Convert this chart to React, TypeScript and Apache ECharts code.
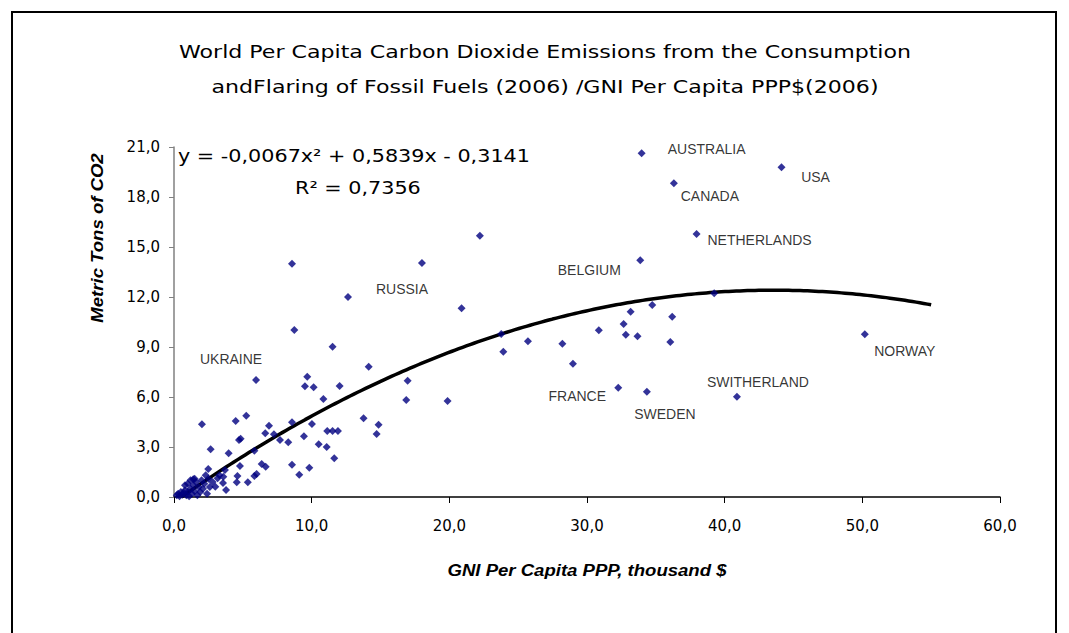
import React, { useEffect, useRef } from "react";
import * as echarts from "echarts";

const TITLE_LINES = [
  "World Per Capita Carbon Dioxide Emissions from the Consumption",
  "andFlaring of Fossil Fuels (2006) /GNI Per Capita PPP$(2006)",
];
const X_AXIS_TITLE = "GNI Per Capita PPP, thousand $";
const Y_AXIS_TITLE = "Metric Tons of CO2";
const EQUATION_TEXT = "y = -0,0067x² + 0,5839x - 0,3141";
const R2_TEXT = "R² = 0,7356";

const X_MIN = 0;
const X_MAX = 60;
const X_STEP = 10;
const Y_MIN = 0;
const Y_MAX = 21;
const Y_STEP = 3;

// trend line coefficients (as printed on the chart)
const TREND_A = -0.0067;
const TREND_B = 0.5839;
const TREND_C = -0.3141;
const TREND_END = 55;

// labelled countries
const labelledNames = [
  "AUSTRALIA", "CANADA", "USA", "NETHERLANDS", "BELGIUM", "RUSSIA",
  "UKRAINE", "FRANCE", "SWEDEN", "SWITHERLAND", "NORWAY",
];
const labelledGni = [33.97, 36.31, 44.13, 37.96, 33.87, 12.64, 5.96, 32.27, 34.35, 40.89, 50.18];
const labelledCo2 = [20.62, 18.82, 19.78, 15.78, 14.2, 12.0, 7.02, 6.56, 6.32, 6.02, 9.76];

// other countries
const otherGni = [
  22.22, 20.89, 39.24, 34.74, 33.17, 36.19, 32.66, 30.86, 32.82, 33.67, 36.05, 23.77, 23.92, 25.71, 28.21, 28.98,
  8.57, 18.01, 8.74, 11.52, 14.14, 9.68, 9.51, 10.14, 12.03, 10.85, 16.97, 16.87, 19.87, 8.57, 10.02, 13.77,
  14.86, 14.72, 11.13, 11.52, 11.91, 7.7, 8.3, 9.44, 10.51, 11.09, 11.64, 8.57, 9.83, 9.1,
  2.03, 4.48, 5.25, 6.9, 6.63, 7.26, 4.72, 4.84, 2.66, 3.97, 5.84, 2.49, 4.79, 6.37, 6.66, 3.7, 3.58, 4.61,
  5.84, 6.0, 3.17, 1.4,
  0.2, 0.3, 0.4, 0.5, 0.6, 0.7, 0.8, 0.9, 1.0, 1.1, 1.2, 1.3, 1.4, 1.5, 1.6, 1.7, 1.8, 1.9, 2.0, 2.1,
  2.2, 2.4, 2.5, 2.6, 2.8, 3.0, 1.2, 1.5, 1.0, 0.8, 2.3, 3.3, 3.56, 3.78, 4.56, 5.36,
];
const otherCo2 = [
  15.68, 11.32, 12.22, 11.52, 11.12, 10.82, 10.38, 10.0, 9.74, 9.64, 9.3, 9.78, 8.72, 9.34, 9.2, 8.0,
  14.0, 14.04, 10.02, 9.02, 7.82, 7.22, 6.64, 6.58, 6.66, 5.88, 6.98, 5.82, 5.76, 4.48, 4.38, 4.72,
  4.34, 3.78, 3.96, 3.96, 3.96, 3.42, 3.28, 3.64, 3.16, 3.0, 2.32, 1.94, 1.76, 1.34,
  4.36, 4.56, 4.88, 4.28, 3.82, 3.76, 3.42, 3.5, 2.86, 2.62, 2.78, 1.68, 1.86, 1.98, 1.82, 1.62, 1.22, 1.26,
  1.26, 1.38, 1.12, 1.06,
  0.1, 0.2, 0.05, 0.3, 0.15, 0.25, 0.4, 0.1, 0.3, 0.05, 0.5, 0.2, 0.7, 0.35, 0.9, 0.1, 0.6, 0.3, 1.0, 0.5,
  0.8, 0.2, 1.1, 0.6, 0.9, 0.62, 1.0, 1.1, 0.8, 0.7, 1.3, 1.3, 0.84, 0.42, 0.88, 0.88,
];

// label placement (pixel offsets from the marker)
const LABEL_OFFSETS: Record<string, [number, number]> = {
  AUSTRALIA: [65, -4],
  CANADA: [36, 13],
  USA: [34, 10],
  NETHERLANDS: [63, 6],
  BELGIUM: [-51, 10],
  RUSSIA: [54, -8],
  UKRAINE: [-25, -21],
  FRANCE: [-41, 8],
  SWEDEN: [18, 22],
  SWITHERLAND: [21, -15],
  NORWAY: [40, 17],
};

const fmt = (v: number) => v.toFixed(1).replace(".", ",");
const VERDANA = "DejaVu Sans, Verdana, sans-serif";
const ARIAL = "Liberation Sans, Arial, sans-serif";

export default function App() {
  const ref = useRef<HTMLDivElement>(null);

  useEffect(() => {
    document.body.style.margin = "0";
    if (!ref.current) return;
    const chart = echarts.init(ref.current, undefined, { renderer: "svg" });

    const trend: number[][] = [];
    const x0 = (-TREND_B + Math.sqrt(TREND_B * TREND_B - 4 * TREND_A * TREND_C)) / (2 * TREND_A);
    const start = Math.max(0, x0);
    const n = 200;
    for (let i = 0; i <= n; i++) {
      const x = start + ((TREND_END - start) * i) / n;
      trend.push([x, TREND_A * x * x + TREND_B * x + TREND_C]);
    }

    const labelled = labelledNames.map((name, i) => ({
      value: [labelledGni[i], labelledCo2[i]],
      name,
      label: {
        show: true,
        formatter: name,
        position: "inside",
        offset: LABEL_OFFSETS[name],
        align: "center",
        verticalAlign: "middle",
        color: "#000",
        fontFamily: ARIAL,
        fontSize: 14,
      },
    }));
    const others = otherGni.map((g, i) => [g, otherCo2[i]]);

    const option: any = {
      animation: false,
      backgroundColor: "#fff",
      grid: { left: 174, right: 69, top: 147, bottom: 136, containLabel: false },
      xAxis: {
        type: "value",
        min: X_MIN,
        max: X_MAX,
        interval: X_STEP,
        axisLine: { show: true, onZero: false, lineStyle: { color: "#000", width: 1.5 } },
        axisTick: { show: true, inside: false, length: 6, lineStyle: { color: "#000" } },
        axisLabel: {
          formatter: (v: number) => fmt(v),
          margin: 21,
          fontFamily: VERDANA,
          fontSize: 15,
          color: "#000",
        },
        splitLine: { show: false },
      },
      yAxis: {
        type: "value",
        min: Y_MIN,
        max: Y_MAX,
        interval: Y_STEP,
        axisLine: { show: true, onZero: false, lineStyle: { color: "#808080", width: 1.5 } },
        axisTick: { show: true, inside: false, length: 5, lineStyle: { color: "#808080" } },
        axisLabel: {
          formatter: (v: number) => fmt(v),
          margin: 14,
          fontFamily: VERDANA,
          fontSize: 15,
          color: "#000",
        },
        splitLine: { show: false },
      },
      series: [
        {
          type: "line",
          data: trend,
          showSymbol: false,
          symbol: "none",
          lineStyle: { color: "#000", width: 3.5 },
          z: 1,
          silent: true,
        },
        {
          type: "scatter",
          data: others,
          symbol: "diamond",
          symbolSize: 8,
          itemStyle: { color: "#000080" },
          z: 3,
        },
        {
          type: "scatter",
          data: labelled,
          symbol: "diamond",
          symbolSize: 8,
          itemStyle: { color: "#000080" },
          z: 4,
        },
      ],
      graphic: [
        {
          type: "rect",
          shape: { x: 12, y: 12, width: 1044, height: 660 },
          style: { fill: "none", stroke: "#000", lineWidth: 2 },
          silent: true,
        },
        {
          type: "text",
          x: 545,
          y: 52,
          scaleX: 1.3,
          style: {
            text: TITLE_LINES[0],
            align: "center",
            verticalAlign: "middle",
            fontFamily: VERDANA,
            fontSize: 17,
            fill: "#000",
          },
        },
        {
          type: "text",
          x: 545,
          y: 87,
          scaleX: 1.3,
          style: {
            text: TITLE_LINES[1],
            align: "center",
            verticalAlign: "middle",
            fontFamily: VERDANA,
            fontSize: 17,
            fill: "#000",
          },
        },
        {
          type: "text",
          x: 178,
          y: 156,
          scaleX: 1.22,
          style: {
            text: EQUATION_TEXT,
            align: "left",
            verticalAlign: "middle",
            fontFamily: VERDANA,
            fontSize: 17,
            fill: "#000",
          },
        },
        {
          type: "text",
          x: 295,
          y: 188,
          scaleX: 1.22,
          style: {
            text: R2_TEXT,
            align: "left",
            verticalAlign: "middle",
            fontFamily: VERDANA,
            fontSize: 17,
            fill: "#000",
          },
        },
        {
          type: "text",
          x: 97,
          y: 238,
          rotation: Math.PI / 2,
          scaleX: 1.16,
          style: {
            text: Y_AXIS_TITLE,
            align: "center",
            verticalAlign: "middle",
            fontFamily: ARIAL,
            fontWeight: "bold",
            fontStyle: "italic",
            fontSize: 16,
            fill: "#000",
          },
        },
        {
          type: "text",
          x: 587,
          y: 570,
          scaleX: 1.16,
          style: {
            text: X_AXIS_TITLE,
            align: "center",
            verticalAlign: "middle",
            fontFamily: ARIAL,
            fontWeight: "bold",
            fontStyle: "italic",
            fontSize: 16,
            fill: "#000",
          },
        },
      ],
    };

    chart.setOption(option);
    return () => chart.dispose();
  }, []);

  return <div ref={ref} style={{ width: 1069, height: 633 }} />;
}
